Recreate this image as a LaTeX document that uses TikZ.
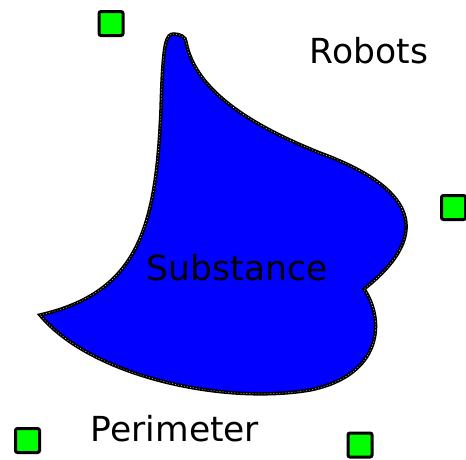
\documentclass[tikz,border=0pt]{standalone}
\usepackage{fontspec}
\setmainfont{DejaVu Sans}
\begin{document}
\begin{tikzpicture}[x=1pt,y=-1pt,
  robot/.style={draw=black,line width=3pt,fill=green,minimum size=24pt,inner sep=0pt,rounded corners=2pt},
  lbl/.style={font=\fontsize{34.5}{40}\selectfont,inner sep=0pt,anchor=base},
  outline/.style={draw=black,line width=3.5pt},
  inner/.style={draw=white,line width=0.4pt,dash pattern=on 1pt off 2pt}]
\useasboundingbox (0,0) rectangle (466,459);
\def\blob{(40,315) .. controls (140,292) and (156,225) .. (161,110)
 .. controls (163,40) and (166,34) .. (174,34)
 .. controls (180,34) and (186,37) .. (186,42)
 .. controls (195,90) and (250,125) .. (320,153)
 .. controls (412,187) and (436,232) .. (364,289)
 .. controls (385,320) and (383,375) .. (310,390)
 .. controls (220,405) and (90,375) .. (40,315) -- cycle}
\path[fill=blue,outline] \blob;
\path[inner] \blob;
\node[robot] (r1) at (111,23.5) {};
\node[robot] (r2) at (453.5,207.5) {};
\node[robot] (r3) at (27.5,440.5) {};
\node[robot] (r4) at (360,445) {};
\node[lbl] (robots) at (369,63) {Robots};
\node[lbl] (subst) at (237,280) {Substance};
\node[lbl] (perim) at (175,441) {Perimeter};
\end{tikzpicture}
\end{document}
